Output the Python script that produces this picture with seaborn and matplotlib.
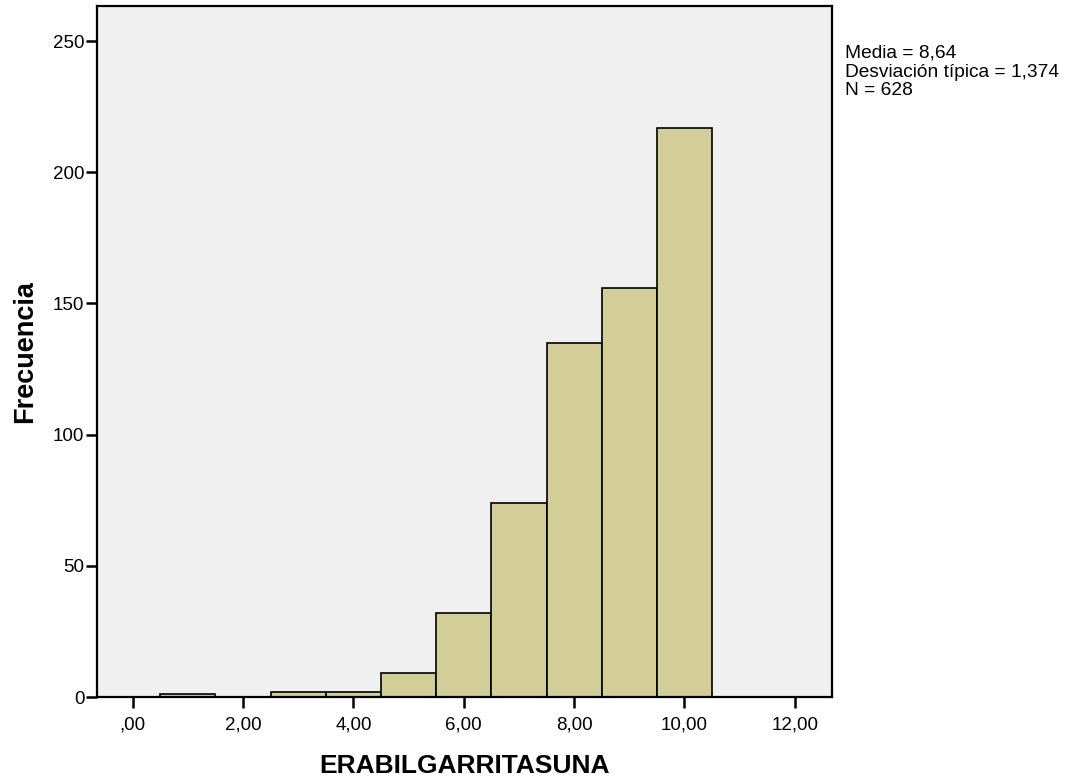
import numpy as np
import pandas as pd
import matplotlib
matplotlib.use("Agg")
import matplotlib.pyplot as plt
import seaborn as sns

# Data
bin_centers = [1, 2, 3, 4, 5, 6, 7, 8, 9, 10]
counts = [1, 0, 2, 2, 9, 32, 74, 135, 156, 217]
xtick_values = [0, 2, 4, 6, 8, 10, 12]
xtick_labels = [",00", "2,00", "4,00", "6,00", "8,00", "10,00", "12,00"]
ytick_values = [0, 50, 100, 150, 200, 250]
stats_text = ["Media = 8,64", "Desviación típica = 1,374", "N = 628"]

sns.set_style("ticks")
plt.rcParams['font.family'] = ['Liberation Sans', 'DejaVu Sans']
plt.rcParams['text.color'] = 'black'
plt.rcParams['axes.labelcolor'] = 'black'
plt.rcParams['xtick.color'] = 'black'
plt.rcParams['ytick.color'] = 'black'

df = pd.DataFrame({"x": np.repeat(bin_centers, counts)})

fig = plt.figure(figsize=(10.73, 7.81), dpi=100)
ax = fig.add_axes([97/1073, 1 - 697/781, (832-97)/1073, (697-6)/781])
ax.set_facecolor("#F0F0F0")

sns.histplot(data=df, x="x", bins=list(np.arange(0.5, 11.5, 1)),
             color="#D3CE97", edgecolor="black", linewidth=1.2, alpha=1, ax=ax)

ax.set_xlim(-0.647, 12.674)
ax.set_ylim(0, 263.4)
ax.set_xticks(xtick_values)
ax.set_xticklabels(xtick_labels)
ax.set_yticks(ytick_values)
ax.tick_params(axis="both", labelsize=13.5, length=8, width=1.8, labelcolor="black",
               color="black", direction="out")
ax.tick_params(axis="x", pad=6)
ax.tick_params(axis="y", pad=1)
for s in ax.spines.values():
    s.set_linewidth(1.6)
    s.set_color("black")
    s.set_visible(True)

ax.set_xlabel("ERABILGARRITASUNA", fontsize=19, fontweight="bold", labelpad=15, color="black")
ax.set_ylabel("Frecuencia", fontsize=19.5, fontweight="bold", labelpad=11, color="black")

fig.text(845/1073, 1 - 45/781, "\n".join(stats_text), fontsize=13.8, va="top", ha="left",
         linespacing=1.12, color="black")

fig.savefig("out.png", dpi=100)
